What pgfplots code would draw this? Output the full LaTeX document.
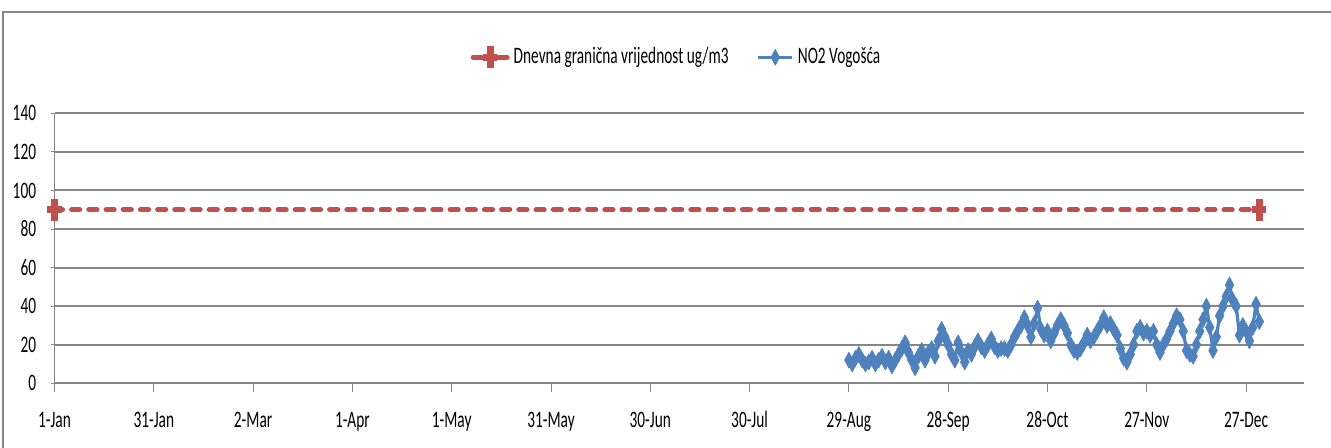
\documentclass[border=0pt]{standalone}
\usepackage{pgfplots}
\pgfplotsset{compat=1.18}
\usepackage{fontspec}
\setmainfont{Carlito}[FakeStretch=0.65]
\definecolor{limitred}{HTML}{C0504D}
\definecolor{no2blue}{HTML}{4F81BD}
\definecolor{gridgray}{HTML}{868686}
\newcommand\lab{\fontsize{11.8pt}{14pt}\selectfont}

\begin{document}
\begin{tikzpicture}
\useasboundingbox (0,0) rectangle (665.5pt,224pt);
% chart frame
\draw[gridgray, line width=1pt] (1.5pt,-1pt) -- (1.5pt,218pt) -- (667pt,218pt);

\begin{axis}[
  at={(27.25pt,32.35pt)}, anchor=south west,
  scale only axis, width=624.75pt, height=135pt,
  xmin=0, xmax=377.5, ymin=0, ymax=140,
  clip=false,
  axis x line*=bottom, axis y line*=left,
  x axis line style={gridgray, line width=1pt, -},
  y axis line style={gridgray, line width=0.5pt, -},
  xtick={0,30,...,360},
  xticklabels={1-Jan,31-Jan,2-Mar,1-Apr,1-May,31-May,30-Jun,30-Jul,29-Aug,28-Sep,28-Oct,27-Nov,27-Dec},
  ytick={0,20,...,140},
  tick align=outside,
  xtick style={gridgray, line width=0.5pt, /pgfplots/major tick length=4.5pt},
  ytick style={gridgray, line width=0.5pt, /pgfplots/major tick length=2pt},
  ymajorgrids, grid style={gridgray, line width=1pt},
  /pgf/number format/assume math mode=true,
  xticklabel style={font=\lab, anchor=base, yshift=-18pt},
  yticklabel style={font=\lab, anchor=east, inner sep=0pt, xshift=-4.75pt},
  legend style={font=\lab, draw=none, fill=none, at={(0.4985,1)}, anchor=center,
    yshift=28pt, legend columns=2,
    /tikz/every even column/.append style={column sep=12pt}},
  legend cell align=left,
  legend image code/.code={\draw[mark repeat=2,mark phase=2,#1]
    plot coordinates {(0pt,0pt) (8.5pt,0pt) (17pt,0pt)};},
]

% daily limit value
\addplot[limitred, line width=2.6pt, line cap=round, dash pattern=on 4pt off 4.6pt,
  mark=+, mark size=5.5pt, mark options={solid, line width=3.6pt, line cap=butt, xscale=0.65},
  legend image post style={solid}]
  coordinates {(0,90) (364,90)};
\addlegendentry{Dnevna granična vrijednost ug/m3}

% daily NO2 concentration
\addplot[no2blue, line width=1.6pt, line join=round,
  mark=diamond*, mark size=4pt, mark options={solid, line width=0.3pt, xscale=0.72}]
  coordinates {
  (240,12) (241,10) (242,13) (243,15) (244,12) (245,10) (246,11) (247,13) (248,10) (249,12)
  (250,14) (251,11) (252,13) (253,9) (254,12) (255,15) (256,18) (257,21) (258,16) (259,12)
  (260,8) (261,14) (262,17) (263,12) (264,16) (265,18) (266,14) (267,22) (268,28) (269,24)
  (270,20) (271,15) (272,12) (273,21) (274,16) (275,11) (276,17) (277,15) (278,19) (279,22)
  (280,19) (281,17) (282,20) (283,23) (284,19) (285,17) (286,18) (287,18) (288,17) (289,20)
  (290,24) (291,27) (292,30) (293,34) (294,30) (295,24) (296,31) (297,39) (298,28) (299,25)
  (300,27) (301,22) (302,26) (303,30) (304,33) (305,30) (306,26) (307,20) (308,17) (309,16)
  (310,18) (311,21) (312,25) (313,22) (314,24) (315,27) (316,30) (317,34) (318,30) (319,31)
  (320,28) (321,25) (322,18) (323,13) (324,11) (325,15) (326,20) (327,27) (328,29) (329,26)
  (330,27) (331,25) (332,27) (333,20) (334,16) (335,20) (336,23) (337,27) (338,31) (339,35)
  (340,33) (341,27) (342,17) (343,15) (344,14) (345,20) (346,27) (347,33) (348,40) (349,29)
  (350,17) (351,24) (352,35) (353,40) (354,45) (355,51) (356,43) (357,40) (358,25) (359,30)
  (360,27) (361,22) (362,29) (363,41) (364,32)};
\addlegendentry{NO2 Vogošća}
\end{axis}
\end{tikzpicture}
\end{document}
